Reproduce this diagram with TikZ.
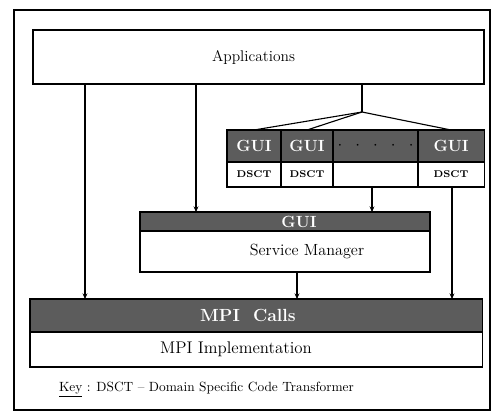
\documentclass[tikz,border=0pt]{standalone}
\usetikzlibrary{positioning,arrows.meta}
\begin{document}
\begin{tikzpicture}
  [x=0.025cm,y=-0.025cm,>={Stealth[length=4pt,width=3.5pt]},
   every node/.style={draw,thick,inner sep=0pt,outer sep=0pt,font=\fontsize{11.5}{14}\selectfont},
   band/.style={fill=black!64,text=white,font=\fontsize{11.5}{14}\selectfont\bfseries},
   body/.style={fill=white},
   gui/.style={band,minimum height=0.8cm},
   dsct/.style={minimum height=0.625cm,font=\scriptsize\bfseries}]
  \useasboundingbox (0,0) rectangle (494,416);
  \draw[line width=1.4pt] (14,10) rectangle (490,410);

  % top layer
  \node[minimum width=11.275cm,minimum height=1.35cm,font=\fontsize{11}{13}\selectfont] (apps) at (258.5,57) {Applications\hspace*{0.25cm}};

  % GUI / DSCT strip
  \node[gui,minimum width=1.35cm] (g1) at (254,146) {GUI};
  \node[gui,minimum width=1.3cm,right=0pt of g1] (g2) {GUI};
  \node[gui,minimum width=2.125cm,right=0pt of g2,text=black] (gdots) {$\cdot\;\;\cdot\;\;\cdot\;\;\cdot\;\;\cdot$};
  \node[gui,minimum width=1.65cm,right=0pt of gdots] (g4) {GUI};
  \node[dsct,minimum width=1.35cm,below=0pt of g1] (d1) {DSCT};
  \node[dsct,minimum width=1.3cm,below=0pt of g2] (d2) {DSCT};
  \node[dsct,minimum width=2.125cm,below=0pt of gdots] (dblank) {};
  \node[dsct,minimum width=1.65cm,below=0pt of g4] (d4) {DSCT};

  % service manager
  \node[band,minimum width=7.25cm,minimum height=0.475cm] (smgui) at (285,221.5) {\hspace*{0.7cm}GUI};
  \node[body,minimum width=7.25cm,minimum height=1.025cm,below=0pt of smgui] (sm) {\hspace*{1.1cm}Service Manager};

  % MPI layer
  \node[band,minimum width=11.3cm,minimum height=0.825cm,font=\fontsize{12.5}{15}\selectfont\bfseries] (mpicalls) at (256,315.5) {MPI\ \ Calls\hspace*{0.4cm}};
  \node[body,minimum width=11.3cm,minimum height=0.875cm,below=0pt of mpicalls,font=\fontsize{12}{14}\selectfont] (mpi) {MPI Implementation\hspace*{1cm}};

  \node[draw=none,anchor=west,font=\fontsize{9.5}{12}\selectfont] (key) at (59,390)
    {\underline{Key} : DSCT -- Domain Specific Code Transformer};

  % connectors
  \coordinate (xl) at (85,0);
  \coordinate (xm) at (196,0);
  \coordinate (xs) at (297,0);
  \coordinate (xg) at (372,0);
  \coordinate (xr) at (452,0);
  \coordinate (fork) at (362,112);
  \draw[thick] (apps.south -| fork) -- (fork);
  \foreach \dest in {g1,g2,g4}
    \draw[thick] (fork) -- (\dest.north);
  \draw[thick,->] (apps.south -| xl) -- (mpicalls.north -| xl);
  \draw[thick,->] (apps.south -| xm) -- (smgui.north -| xm);
  \draw[thick,->] (dblank.south -| xg) -- (smgui.north -| xg);
  \draw[thick,->] (d4.south -| xr) -- (mpicalls.north -| xr);
  \draw[thick,->] (sm.south -| xs) -- (mpicalls.north -| xs);
\end{tikzpicture}
\end{document}
